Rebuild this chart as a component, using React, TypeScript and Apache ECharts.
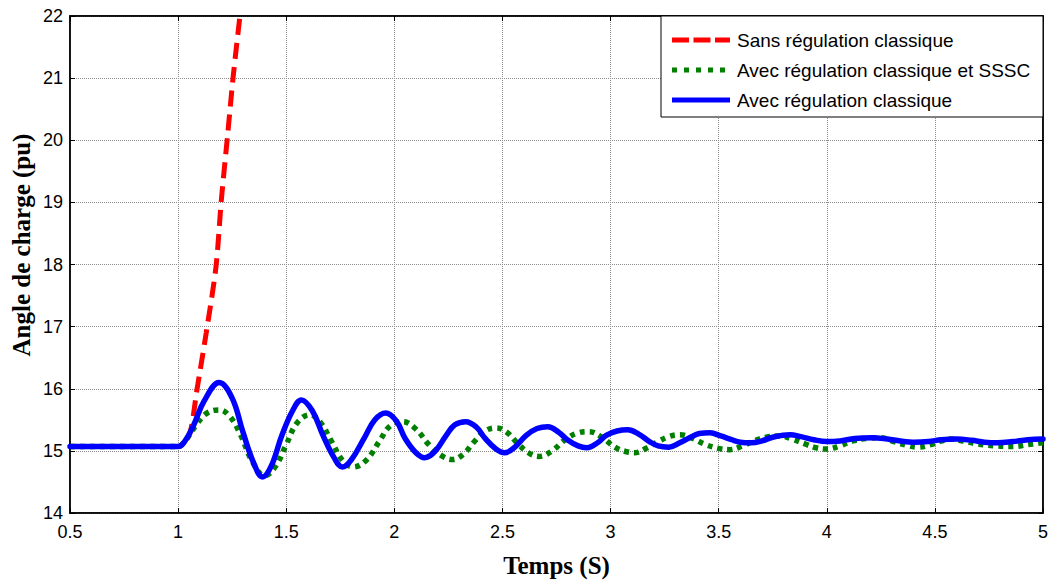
import React, { useEffect, useRef } from "react";
import * as echarts from "echarts";

const xTicks = [0.5, 1, 1.5, 2, 2.5, 3, 3.5, 4, 4.5, 5];
const seriesNames = [
  "Sans régulation classique",
  "Avec régulation classique et SSSC",
  "Avec régulation classique",
];
const seriesColors = ["#ff0000", "#007f00", "#0000ff"];
const xAxisTitle = "Temps (S)";
const yAxisTitle = "Angle de charge (pu)";

const redData: number[][] = [
  [0.5, 15.07], [1.0, 15.07], [1.02, 15.1], [1.055, 15.29], [1.087, 15.98],
  [1.13, 16.9], [1.175, 17.96], [1.2, 19.04], [1.23, 20.12], [1.254, 21.0],
  [1.286, 22.0], [1.31, 22.7],
];

const greenData: number[][] = [
  [0.5, 15.07], [1.0, 15.07], [1.03, 15.15], [1.08, 15.4], [1.13, 15.6], [1.19, 15.66],
  [1.24, 15.55], [1.29, 15.25], [1.34, 14.85], [1.4, 14.6], [1.45, 14.75], [1.5, 15.1],
  [1.55, 15.45], [1.61, 15.58], [1.66, 15.45], [1.71, 15.15], [1.76, 14.85], [1.81, 14.74],
  [1.87, 14.85], [1.93, 15.15], [1.98, 15.4], [2.04, 15.47], [2.1, 15.35], [2.16, 15.1],
  [2.22, 14.92], [2.27, 14.86], [2.32, 14.95], [2.37, 15.15], [2.42, 15.32], [2.47, 15.37],
  [2.52, 15.3], [2.57, 15.12], [2.62, 14.97], [2.67, 14.91], [2.73, 15.0], [2.79, 15.18],
  [2.85, 15.29], [2.9, 15.31], [2.96, 15.22], [3.02, 15.06], [3.07, 14.99], [3.11, 14.97],
  [3.17, 15.05], [3.22, 15.15], [3.27, 15.23], [3.32, 15.26], [3.38, 15.2], [3.44, 15.1],
  [3.5, 15.04], [3.55, 15.02], [3.61, 15.08], [3.67, 15.17], [3.72, 15.22], [3.78, 15.24],
  [3.84, 15.19], [3.9, 15.11], [3.95, 15.05], [4.0, 15.03], [4.06, 15.08], [4.12, 15.16],
  [4.19, 15.2], [4.25, 15.21], [4.31, 15.15], [4.37, 15.09], [4.42, 15.06], [4.48, 15.1],
  [4.53, 15.16], [4.57, 15.19], [4.63, 15.16], [4.7, 15.11], [4.78, 15.08], [4.86, 15.07],
  [4.93, 15.1], [5.0, 15.13],
];

const blueData: number[][] = [
  [0.5, 15.07], [1.0, 15.07], [1.03, 15.15], [1.07, 15.4], [1.12, 15.8], [1.19, 16.1],
  [1.25, 15.85], [1.3, 15.3], [1.35, 14.8], [1.39, 14.58], [1.43, 14.75], [1.48, 15.25],
  [1.53, 15.65], [1.57, 15.82], [1.62, 15.65], [1.67, 15.25], [1.72, 14.9], [1.76, 14.74],
  [1.8, 14.85], [1.86, 15.2], [1.91, 15.5], [1.96, 15.61], [2.01, 15.48], [2.05, 15.2],
  [2.1, 14.97], [2.14, 14.89], [2.19, 15.0], [2.24, 15.25], [2.28, 15.42], [2.33, 15.47],
  [2.38, 15.38], [2.42, 15.2], [2.47, 15.03], [2.51, 14.97], [2.56, 15.07], [2.61, 15.25],
  [2.66, 15.36], [2.71, 15.39], [2.76, 15.3], [2.8, 15.18], [2.85, 15.08], [2.89, 15.05],
  [2.94, 15.13], [2.98, 15.25], [3.03, 15.32], [3.08, 15.34], [3.13, 15.27], [3.18, 15.15],
  [3.22, 15.08], [3.27, 15.06], [3.32, 15.13], [3.37, 15.22], [3.41, 15.28], [3.46, 15.29],
  [3.51, 15.24], [3.56, 15.18], [3.6, 15.14], [3.65, 15.13], [3.7, 15.16], [3.75, 15.22],
  [3.83, 15.26], [3.88, 15.23], [3.94, 15.18], [4.0, 15.15], [4.06, 15.16], [4.13, 15.2],
  [4.21, 15.21], [4.28, 15.19], [4.34, 15.16], [4.4, 15.14], [4.47, 15.15], [4.53, 15.18],
  [4.6, 15.19], [4.67, 15.17], [4.73, 15.14], [4.79, 15.13], [4.86, 15.15], [4.93, 15.18],
  [5.0, 15.19],
];

const LABEL_FONT = "Arial, 'Liberation Sans', sans-serif";
const NAME_FONT = "'Times New Roman', 'Liberation Serif', serif";

const lineDashes: (number[] | null)[] = [[16, 8], [5, 5], null];
const legendDashes: (number[] | null)[] = [[17, 4.5], [5, 7], null];

export default function App() {
  const ref = useRef<HTMLDivElement>(null);
  useEffect(() => {
    if (!ref.current) return;
    const chart = echarts.init(ref.current, undefined, { renderer: "svg" });
    const gridLine = { show: true, lineStyle: { color: "#8c8c8c", type: [1, 1] as any, width: 1 } };

    const legendX = 661, legendY = 16, legendW = 382, legendH = 101;
    const graphics: any[] = [
      {
        type: "rect",
        shape: { x: legendX, y: legendY, width: legendW, height: legendH },
        style: { fill: "#fff", stroke: "#000", lineWidth: 1 },
        z: 100,
      },
      {
        type: "text",
        x: 21, y: 245, rotation: Math.PI / 2,
        style: {
          text: yAxisTitle, fill: "#000", fontSize: 25, fontWeight: "bold",
          fontFamily: NAME_FONT, align: "center", verticalAlign: "middle",
        },
        z: 101,
      },
    ];
    seriesNames.forEach((name, i) => {
      const cy = legendY + 24 + i * 30;
      graphics.push({
        type: "line",
        shape: { x1: legendX + 11, y1: cy, x2: legendX + 69, y2: cy },
        style: {
          stroke: seriesColors[i], lineWidth: 5,
          lineDash: legendDashes[i] || undefined, lineCap: "butt",
        },
        z: 101,
      });
      graphics.push({
        type: "text",
        x: legendX + 76, y: cy,
        style: {
          text: name, fill: "#000", fontSize: 19, fontFamily: LABEL_FONT,
          verticalAlign: "middle", align: "left",
        },
        z: 101,
      });
    });

    chart.setOption({
      animation: false,
      backgroundColor: "#fff",
      grid: {
        left: 70, right: 11, top: 16, bottom: 71,
        show: true, borderColor: "#000", borderWidth: 1.5, backgroundColor: "transparent",
      },
      graphic: graphics,
      xAxis: [
        {
          type: "value", min: 0.5, max: 5, interval: 0.5,
          axisLine: { show: true, onZero: false, lineStyle: { color: "#000", width: 1.5 } },
          axisTick: { show: true, inside: true, length: 5, lineStyle: { color: "#000" } },
          axisLabel: { fontSize: 18, fontFamily: LABEL_FONT, color: "#000", margin: 10,
            formatter: (v: number) => xTicks.includes(v) ? String(v) : "" },
          splitLine: gridLine,
          name: xAxisTitle, nameLocation: "middle", nameGap: 40,
          nameTextStyle: { fontSize: 25, fontWeight: "bold", fontFamily: NAME_FONT, color: "#000" },
        },
        {
          type: "value", min: 0.5, max: 5, interval: 0.5, position: "top",
          axisLine: { show: true, onZero: false, lineStyle: { color: "#000", width: 1.5 } },
          axisTick: { show: true, inside: true, length: 5, lineStyle: { color: "#000" } },
          axisLabel: { show: false }, splitLine: { show: false },
        },
      ],
      yAxis: [
        {
          type: "value", min: 14, max: 22, interval: 1,
          axisLine: { show: true, onZero: false, lineStyle: { color: "#000", width: 1.5 } },
          axisTick: { show: true, inside: true, length: 5, lineStyle: { color: "#000" } },
          axisLabel: { fontSize: 18, fontFamily: LABEL_FONT, color: "#000", margin: 7 },
          splitLine: gridLine,
        },
        {
          type: "value", min: 14, max: 22, interval: 1, position: "right",
          axisLine: { show: true, onZero: false, lineStyle: { color: "#000", width: 1.5 } },
          axisTick: { show: true, inside: true, length: 5, lineStyle: { color: "#000" } },
          axisLabel: { show: false }, splitLine: { show: false },
        },
      ],
      series: [
        {
          name: seriesNames[0], type: "line", data: redData, symbol: "none", smooth: 0.3,
          clip: true,
          lineStyle: { color: seriesColors[0], width: 5, type: lineDashes[0] as any, cap: "butt" },
        },
        {
          name: seriesNames[1], type: "line", data: greenData, symbol: "none", smooth: 0.4,
          clip: true,
          lineStyle: { color: seriesColors[1], width: 5.5, type: lineDashes[1] as any, cap: "butt" },
        },
        {
          name: seriesNames[2], type: "line", data: blueData, symbol: "none", smooth: 0.4,
          clip: true,
          lineStyle: { color: seriesColors[2], width: 5.5, cap: "round", join: "round" },
        },
      ],
    });
    return () => chart.dispose();
  }, []);
  return (
    <div
      ref={ref}
      style={{ position: "fixed", left: 0, top: 0, width: 1054, height: 584, background: "#fff" }}
    />
  );
}
